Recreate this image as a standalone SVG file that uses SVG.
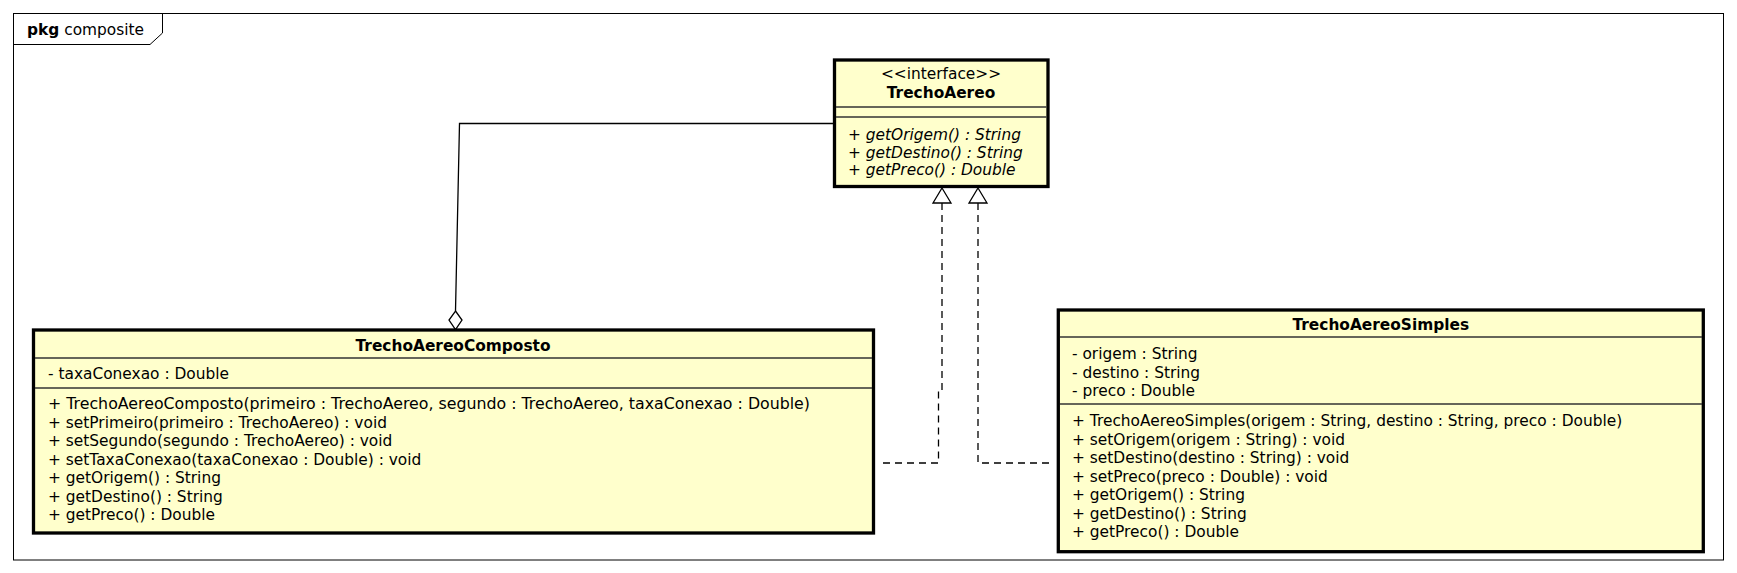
<svg xmlns="http://www.w3.org/2000/svg" width="1737" height="573" viewBox="0 0 1737 573">
<style>
text{font-family:"DejaVu Sans","Verdana",sans-serif;font-size:15.4px;fill:#000}
.b{font-weight:bold}
.i{font-style:italic}
.c{text-anchor:middle}
.box{fill:#FFFFCC;stroke:#000;stroke-width:3.3}
.sep{stroke:#333;stroke-width:1.3}
.frame{fill:none;stroke:#000;stroke-width:1}
.dash{fill:none;stroke:#000;stroke-width:1.3;stroke-dasharray:7,5}
.solid{fill:none;stroke:#000;stroke-width:1.3}
.head{fill:#fff;stroke:#000;stroke-width:1.3}
</style>
<rect width="1737" height="573" fill="#fff"/>
<g id="frame">
<rect class="frame" x="13.5" y="13.5" width="1710" height="546.5"/>
<path class="frame" d="M13.5,44.5 H150 L162.5,33 V13.5"/>
<text x="27" y="35"><tspan class="b">pkg</tspan> composite</text>
</g>
<g id="connectors">
<polyline class="solid" points="834,123.5 459.5,123.5 455.5,311"/>
<polygon class="head" points="455.5,311 462,320 455.5,329.5 449,320"/>
<polyline class="dash" points="942,203 942,390 938.5,390 938.5,463 878,463"/>
<polyline class="dash" points="978,203 978,463 1053,463"/>
<polygon class="head" points="942,188 951,203 933,203"/>
<polygon class="head" points="978,188 987,203 969,203"/>
</g>
<g id="TrechoAereo">
<rect class="box" x="834.5" y="60" width="213.5" height="126.5"/>
<line class="sep" x1="836" y1="107" x2="1046.5" y2="107"/>
<line class="sep" x1="836" y1="117" x2="1046.5" y2="117"/>
<text class="c" x="941" y="79">&lt;&lt;interface&gt;&gt;</text>
<text class="c b" x="941" y="98">TrechoAereo</text>
<text class="i" x="848" y="140">+ getOrigem() : String</text>
<text class="i" x="848" y="157.5">+ getDestino() : String</text>
<text class="i" x="848" y="175">+ getPreco() : Double</text>
</g>
<g id="TrechoAereoComposto">
<rect class="box" x="33.5" y="330" width="840" height="203"/>
<line class="sep" x1="35" y1="358" x2="872" y2="358"/>
<line class="sep" x1="35" y1="388" x2="872" y2="388"/>
<text class="c b" x="453" y="351">TrechoAereoComposto</text>
<text x="48" y="379">- taxaConexao : Double</text>
<text x="48" y="409" textLength="762" lengthAdjust="spacingAndGlyphs">+ TrechoAereoComposto(primeiro : TrechoAereo, segundo : TrechoAereo, taxaConexao : Double)</text>
<text x="48" y="427.5">+ setPrimeiro(primeiro : TrechoAereo) : void</text>
<text x="48" y="446">+ setSegundo(segundo : TrechoAereo) : void</text>
<text x="48" y="464.5">+ setTaxaConexao(taxaConexao : Double) : void</text>
<text x="48" y="483">+ getOrigem() : String</text>
<text x="48" y="501.5">+ getDestino() : String</text>
<text x="48" y="520">+ getPreco() : Double</text>
</g>
<g id="TrechoAereoSimples">
<rect class="box" x="1058.3" y="310" width="645" height="241.7"/>
<line class="sep" x1="1060" y1="337" x2="1702" y2="337"/>
<line class="sep" x1="1060" y1="404" x2="1702" y2="404"/>
<text class="c b" x="1380.8" y="330">TrechoAereoSimples</text>
<text x="1072" y="359">- origem : String</text>
<text x="1072" y="377.5">- destino : String</text>
<text x="1072" y="396">- preco : Double</text>
<text x="1072" y="426">+ TrechoAereoSimples(origem : String, destino : String, preco : Double)</text>
<text x="1072" y="444.5">+ setOrigem(origem : String) : void</text>
<text x="1072" y="463">+ setDestino(destino : String) : void</text>
<text x="1072" y="481.5">+ setPreco(preco : Double) : void</text>
<text x="1072" y="500">+ getOrigem() : String</text>
<text x="1072" y="518.5">+ getDestino() : String</text>
<text x="1072" y="537">+ getPreco() : Double</text>
</g>
</svg>
